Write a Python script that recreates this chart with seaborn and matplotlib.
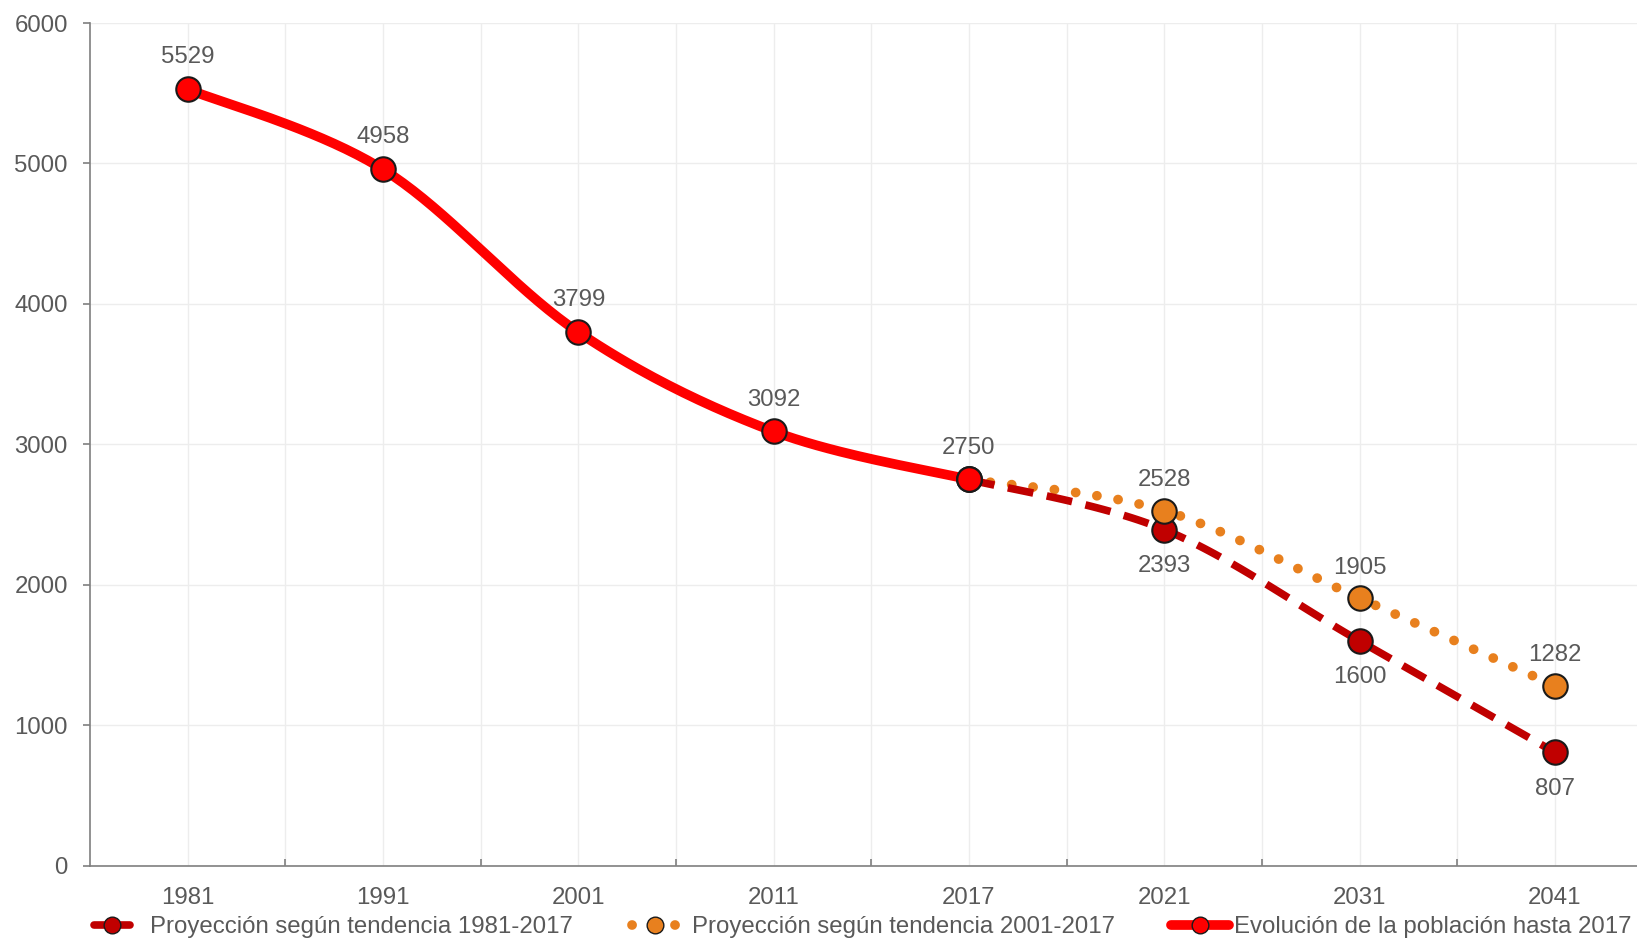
import numpy as np
import pandas as pd
import matplotlib
matplotlib.use("Agg")
import matplotlib.pyplot as plt
from matplotlib.lines import Line2D
from matplotlib.ticker import MultipleLocator, FixedLocator
import seaborn as sns

# --- data -------------------------------------------------------------
years = ["1981", "1991", "2001", "2011", "2017", "2021", "2031", "2041"]

hist_years = ["1981", "1991", "2001", "2011", "2017"]
hist_values = [5529, 4958, 3799, 3092, 2750]

proj81_years = ["2017", "2021", "2031", "2041"]
proj81_values = [2750, 2393, 1600, 807]

proj01_years = ["2017", "2021", "2031", "2041"]
proj01_values = [2750, 2528, 1905, 1282]

label_hist = "Evolución de la población hasta 2017"
label_p81 = "Proyección según tendencia 1981-2017"
label_p01 = "Proyección según tendencia 2001-2017"

# --- style ------------------------------------------------------------
sns.set_theme(style="white")
plt.rcParams["font.family"] = ["Liberation Sans", "DejaVu Sans"]
TEXT = "#595959"
RED = "#FF0000"
DARKRED = "#C00000"
ORANGE = "#E8801E"
EDGE = "#1a1a1a"
FS = 17.3

HIST_LW = 7.0
P81_LW = 5.5
P81_DASH = (0, (3.4, 1.8))
P01_LW = 7.0
P01_DOT = (0, (0.01, 2.2))

fig = plt.figure(figsize=(16.37, 9.39), dpi=100)
ax = fig.add_axes([0.055, 0.078, 0.945, 0.8975])

pos = {y: i for i, y in enumerate(years)}


def smooth(xs, ys, n=40):
    """Cardinal (Catmull-Rom) Bezier smoothing through the given points."""
    x = np.asarray(xs, float)
    y = np.asarray(ys, float)
    P = np.column_stack([x, y])
    Pp = np.vstack([P[0], P, P[-1]])
    out = []
    t = np.linspace(0, 1, n)[:, None]
    for i in range(len(P) - 1):
        p0, p1, p2, p3 = Pp[i], Pp[i + 1], Pp[i + 2], Pp[i + 3]
        b1 = p1 + (p2 - p0) / 6.0
        b2 = p2 - (p3 - p1) / 6.0
        seg = ((1 - t) ** 3) * p1 + 3 * ((1 - t) ** 2) * t * b1 + 3 * (1 - t) * t ** 2 * b2 + t ** 3 * p2
        out.append(seg if i == 0 else seg[1:])
    s = np.vstack(out)
    return s[:, 0], s[:, 1]


def frame(yrs, vals):
    return pd.DataFrame({"x": [pos[y] for y in yrs], "v": vals})


df_hist = frame(hist_years, hist_values)
df_p81 = frame(proj81_years, proj81_values)
df_p01 = frame(proj01_years, proj01_values)

# smoothed connecting lines
sx, sy = smooth(df_p01["x"], df_p01["v"])
ax.plot(sx, sy, color=ORANGE, lw=P01_LW, linestyle=P01_DOT,
        dash_capstyle="round", zorder=3)
sx, sy = smooth(df_p81["x"], df_p81["v"])
ax.plot(sx, sy, color=DARKRED, lw=P81_LW, linestyle=P81_DASH,
        dash_capstyle="butt", zorder=3)
sx, sy = smooth(df_hist["x"], df_hist["v"])
ax.plot(sx, sy, color=RED, lw=HIST_LW, solid_capstyle="round", zorder=4)

# point markers
MS = 310
sns.scatterplot(data=df_p81, x="x", y="v", ax=ax, s=MS, color=DARKRED,
                edgecolor=EDGE, linewidth=1.5, zorder=5, legend=False)
sns.scatterplot(data=df_p01, x="x", y="v", ax=ax, s=MS, color=ORANGE,
                edgecolor=EDGE, linewidth=1.5, zorder=6, legend=False)
sns.scatterplot(data=df_hist, x="x", y="v", ax=ax, s=MS, color=RED,
                edgecolor=EDGE, linewidth=1.5, zorder=7, legend=False)

# value labels
for x, v in zip(df_hist["x"], df_hist["v"]):
    ax.annotate(f"{v}", (x, v), xytext=(0, 23), textcoords="offset points",
                ha="center", va="center", fontsize=FS, color=TEXT, zorder=8)
for x, v in zip(df_p01["x"][1:], df_p01["v"][1:]):
    ax.annotate(f"{v}", (x, v), xytext=(0, 22), textcoords="offset points",
                ha="center", va="center", fontsize=FS, color=TEXT, zorder=8)
for x, v in zip(df_p81["x"][1:], df_p81["v"][1:]):
    ax.annotate(f"{v}", (x, v), xytext=(0, -26), textcoords="offset points",
                ha="center", va="center", fontsize=FS, color=TEXT, zorder=8)

# axes
ax.set_xlim(-0.5, 7.42)
ax.set_ylim(0, 6000)
ax.yaxis.set_major_locator(MultipleLocator(1000))
ax.set_xticks(range(len(years)))
ax.set_xticklabels(years)
ax.xaxis.set_minor_locator(FixedLocator(np.arange(0.5, len(years) - 0.5, 1.0)))
ax.set_xlabel("")
ax.set_ylabel("")

ax.grid(True, which="major", axis="both", color="#EDEDED", lw=1.0, zorder=0)
ax.grid(True, which="minor", axis="x", color="#EDEDED", lw=1.0, zorder=0)
ax.set_axisbelow(True)

for side in ("top", "right"):
    ax.spines[side].set_visible(False)
for side in ("left", "bottom"):
    ax.spines[side].set_color("#7F7F7F")
    ax.spines[side].set_linewidth(1.2)

ax.tick_params(axis="x", which="major", length=0, pad=15, labelsize=FS, labelcolor=TEXT)
ax.tick_params(axis="x", which="minor", direction="in", length=5, width=1.2,
               color="#7F7F7F", bottom=True)
ax.tick_params(axis="y", which="major", direction="out", length=5, width=1.2,
               color="#7F7F7F", pad=11, labelsize=FS, labelcolor=TEXT, left=True)

# legend: three entries laid out along the bottom edge
entries = [
    (Line2D([0], [0], color=DARKRED, lw=P81_LW, marker="o", markersize=12,
            markerfacecolor=DARKRED, markeredgecolor=EDGE),
     label_p81, 0.0574, 1.5, 0.85),
    (Line2D([0], [0], color=ORANGE, lw=P01_LW, linestyle=P01_DOT,
            dash_capstyle="round", marker="o", markersize=12,
            markerfacecolor=ORANGE, markeredgecolor=EDGE),
     label_p01, 0.386, 1.95, 0.55),
    (Line2D([0], [0], color=RED, lw=HIST_LW, marker="o", markersize=12,
            markerfacecolor=RED, markeredgecolor=EDGE),
     label_hist, 0.7156, 2.4, 0.2),
]
for handle, text, x0, hl, tp in entries:
    fig.legend([handle], [text], loc="center left", bbox_to_anchor=(x0, 0.0125),
               frameon=False, fontsize=FS, labelcolor=TEXT, handlelength=hl,
               handletextpad=tp, borderpad=0, borderaxespad=0)

fig.savefig("out.png", dpi=100)
